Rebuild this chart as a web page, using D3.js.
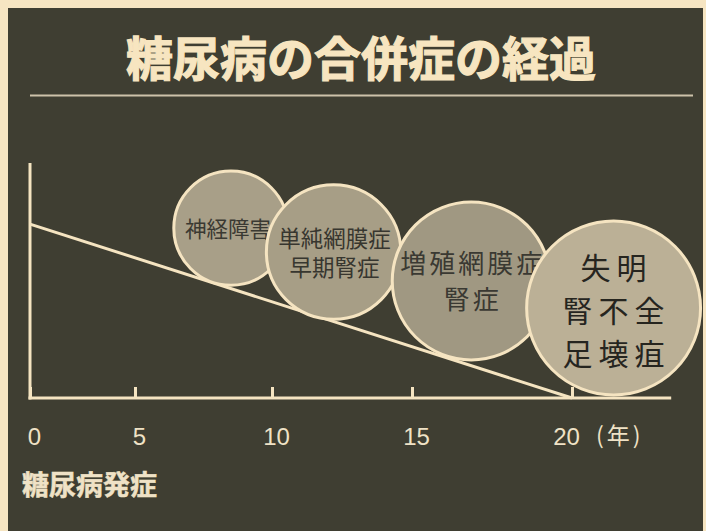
<!DOCTYPE html>
<html>
<head>
<meta charset="utf-8">
<script src="https://cdn.jsdelivr.net/npm/d3@7"></script>
<style>
  body { margin: 0; background: #f6e5c2; }
  svg { display: block; }
</style>
</head>
<body>
<div id="chart"></div>
<script>
// data
var years = [0, 5, 10, 15, 20];
var tickLabels = ["0", "5", "10", "15", "20"];
var lineYears = [0, 20];
var lineValues = [74, 0];

var bubbleNames = [["神経障害"], ["単純網膜症", "早期腎症"], ["増殖網膜症", "腎症"], ["失明", "腎不全", "足壊疽"]];
var bubbleYears = [8.5, 12.2, 16.85, 21.3];
var bubbleValues = [72.3, 62.1, 49.8, 38.3];
var bubbleSizes = [24.3, 28.6, 33.6, 37.0];

// text styles for the bubbles
var bubbleFont = [21.5, 22.5, 26, 30];
var bubbleSpacing = [0, 0, 3, 6];
var bubbleGap = [29, 29, 36, 43];
var bubbleShiftX = [-3, 1, 0, 0];
var bubbleShiftY = [-1, -1, -1, 1];
var bubbleFill = ["#a89f88", "#a79e86", "#a09882", "#bbb096"];
var bubbleInk = ["#3a3932", "#37362f", "#3a3932", "#26251f"];

var width = 706;
var height = 531;
var cream = "#f5e4c1";
var cjk = "'Noto Sans CJK JP', sans-serif";

var svg = d3.select("#chart").append("svg").attr("width", width).attr("height", height);

svg.append("rect")
    .attr("x", 8).attr("y", 8)
    .attr("width", 695).attr("height", height - 8)
    .attr("fill", "#3f3e32");

// title, stroked a little to look heavier like the print
svg.append("text")
    .attr("x", 361).attr("y", 55)
    .attr("text-anchor", "middle")
    .attr("dominant-baseline", "central")
    .attr("font-family", cjk)
    .attr("font-weight", 700)
    .attr("font-size", 47)
    .attr("fill", "#f7e5c0")
    .attr("stroke", "#f7e5c0")
    .attr("stroke-width", 1.2)
    .text("糖尿病の合併症の経過");

svg.append("line")
    .attr("x1", 30).attr("x2", 693)
    .attr("y1", 95.5).attr("y2", 95.5)
    .attr("stroke", "#cdc2aa")
    .attr("stroke-width", 2);

// the hand drawn axis is not evenly spaced, so piecewise scale
var x = d3.scaleLinear()
    .domain(years)
    .range([30, 135, 272, 412, 572]);

var y = d3.scaleLinear()
    .domain([0, 100])
    .range([398, 163]);

var line = d3.line()
    .x(d => x(d[0]))
    .y(d => y(d[1]));

svg.append("path")
    .datum(lineYears.map((d, i) => [d, lineValues[i]]))
    .attr("d", line)
    .attr("fill", "none")
    .attr("stroke", cream)
    .attr("stroke-width", 3);

// axes
svg.append("line")
    .attr("x1", x(0)).attr("x2", x(0))
    .attr("y1", y(0) + 1.5).attr("y2", y(100))
    .attr("stroke", cream).attr("stroke-width", 3);

svg.append("line")
    .attr("x1", x(0) - 1.5).attr("x2", x(23.1))
    .attr("y1", y(0)).attr("y2", y(0))
    .attr("stroke", cream).attr("stroke-width", 3);

var xAxis = svg.append("g")
    .attr("transform", `translate(0,${y(0)})`)
    .call(d3.axisBottom(x)
        .tickValues(years)
        .tickFormat((d, i) => tickLabels[i])
        .tickSize(-11)
        .tickSizeOuter(0)
        .tickPadding(30))
    .call(g => g.select(".domain").remove());

xAxis.selectAll(".tick line")
    .attr("stroke", cream)
    .attr("stroke-width", 3);

xAxis.selectAll(".tick text")
    .attr("fill", "#efe2c6")
    .attr("font-family", "'Liberation Sans', Arial, sans-serif")
    .attr("font-size", 24)
    .attr("dx", d => d === 20 ? -6 : 4);

svg.append("text")
    .attr("x", x(20) + 24).attr("y", y(0) + 30)
    .attr("dy", "0.71em")
    .attr("font-family", cjk)
    .attr("font-size", 23)
    .attr("letter-spacing", 3)
    .attr("fill", "#efe2c6")
    .text("(年)");

svg.append("text")
    .attr("x", 22).attr("y", 483)
    .attr("dominant-baseline", "central")
    .attr("font-family", cjk)
    .attr("font-weight", 700)
    .attr("font-size", 27)
    .attr("fill", "#efe2c6")
    .attr("stroke", "#efe2c6")
    .attr("stroke-width", 0.5)
    .text("糖尿病発症");

// bubbles, later ones sit on top of earlier ones
var bubbles = svg.append("g")
    .selectAll("g").data(bubbleNames).enter().append("g")
    .attr("transform", (d, i) => `translate(${x(bubbleYears[i])},${y(bubbleValues[i])})`);

bubbles.append("circle")
    .attr("r", (d, i) => y(0) - y(bubbleSizes[i]))
    .attr("fill", (d, i) => bubbleFill[i])
    .attr("stroke", cream)
    .attr("stroke-width", 3);

bubbles.each(function (lines, i) {
    var g = d3.select(this);
    var n = lines.length;
    g.selectAll("text").data(lines).enter().append("text")
        .attr("x", bubbleSpacing[i] / 2 + bubbleShiftX[i])
        .attr("y", (d, k) => (k - (n - 1) / 2) * bubbleGap[i] + bubbleShiftY[i])
        .attr("text-anchor", "middle")
        .attr("dominant-baseline", "central")
        .attr("font-family", cjk)
        .attr("font-size", bubbleFont[i])
        .attr("letter-spacing", bubbleSpacing[i])
        .attr("fill", bubbleInk[i])
        .text(d => d);
});
</script>
</body>
</html>
